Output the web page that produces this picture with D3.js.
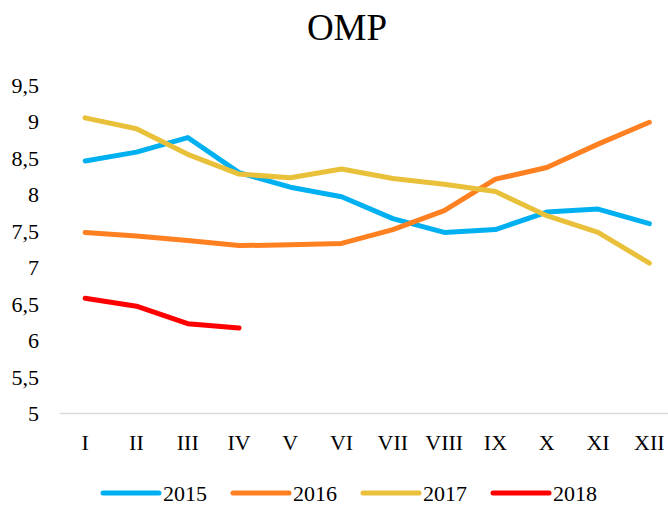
<!DOCTYPE html>
<html>
<head>
<meta charset="utf-8">
<script src="https://cdn.jsdelivr.net/npm/d3@7"></script>
<style>
  body { margin: 0; background: #fff; }
  text { font-family: "Liberation Serif", "Times New Roman", serif; fill: #000; }
</style>
</head>
<body>
<svg id="chart"></svg>
<script>
var months = ['I', 'II', 'III', 'IV', 'V', 'VI', 'VII', 'VIII', 'IX', 'X', 'XI', 'XII'];
var yTicks = [5, 5.5, 6, 6.5, 7, 7.5, 8, 8.5, 9, 9.5];

var v2015 = [8.46, 8.58, 8.78, 8.30, 8.10, 7.97, 7.67, 7.48, 7.52, 7.76, 7.80, 7.60];
var v2016 = [7.48, 7.43, 7.37, 7.30, 7.31, 7.33, 7.52, 7.78, 8.21, 8.37, 8.69, 8.99];
var v2017 = [9.05, 8.90, 8.55, 8.28, 8.23, 8.35, 8.22, 8.14, 8.04, 7.71, 7.48, 7.06];
var v2018 = [6.58, 6.47, 6.23, 6.17];

var series = [
    { name: '2015', values: v2015, color: '#00B0F0' },
    { name: '2016', values: v2016, color: '#FF8021' },
    { name: '2017', values: v2017, color: '#E9C03A' },
    { name: '2018', values: v2018, color: '#FF0000' }
];

var width = 668, height = 505;

var svg = d3.select('#chart')
    .attr('width', width)
    .attr('height', height);

var x = d3.scaleBand().domain(months).range([59.5, 675]);
var y = d3.scaleLinear().domain([5, 9.5]).range([413.5, 85]);

// title
svg.append('text')
    .attr('x', 347)
    .attr('y', 40)
    .attr('text-anchor', 'middle')
    .style('font-size', '37px')
    .text('OMP');

// baseline axis
svg.append('line')
    .attr('x1', 59.5).attr('x2', width)
    .attr('y1', y(5)).attr('y2', y(5))
    .attr('stroke', '#D9D9D9')
    .attr('stroke-width', 1.5);

// y tick labels
svg.append('g').selectAll('text')
    .data(yTicks)
    .join('text')
    .attr('x', 39)
    .attr('y', d => y(d))
    .attr('dy', '0.35em')
    .attr('text-anchor', 'end')
    .style('font-size', '22px')
    .text(d => String(d).replace('.', ','));

// x tick labels
svg.append('g').selectAll('text')
    .data(months)
    .join('text')
    .attr('x', d => x(d) + x.bandwidth() / 2)
    .attr('y', 450)
    .attr('text-anchor', 'middle')
    .style('font-size', '22px')
    .text(d => d);

var line = d3.line()
    .x((d, i) => x(months[i]) + x.bandwidth() / 2)
    .y(d => y(d));

svg.append('g').selectAll('path')
    .data(series)
    .join('path')
    .attr('d', d => line(d.values))
    .attr('fill', 'none')
    .attr('stroke', d => d.color)
    .attr('stroke-width', 5)
    .attr('stroke-linejoin', 'round')
    .attr('stroke-linecap', 'round');

// legend
var legend = svg.append('g').selectAll('g')
    .data(series)
    .join('g')
    .attr('transform', (d, i) => `translate(${103 + i * 130}, 493)`);

legend.append('line')
    .attr('x1', 0).attr('x2', 56)
    .attr('y1', 0).attr('y2', 0)
    .attr('stroke', d => d.color)
    .attr('stroke-width', 5)
    .attr('stroke-linecap', 'round');

legend.append('text')
    .attr('x', 60)
    .attr('y', 8)
    .style('font-size', '22px')
    .text(d => d.name);
</script>
</body>
</html>
